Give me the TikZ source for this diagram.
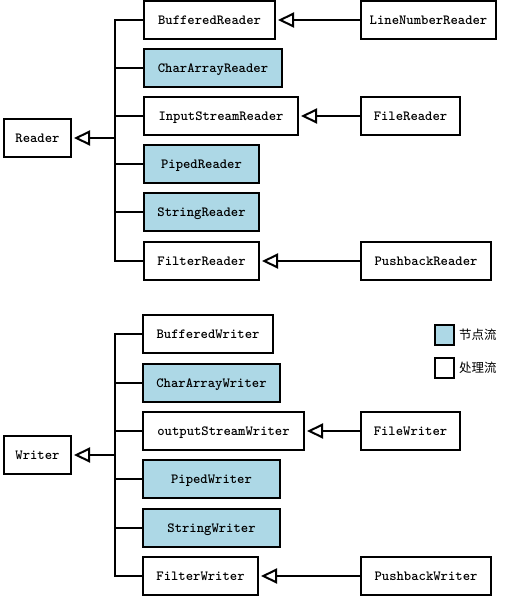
\documentclass[tikz,border=0pt]{standalone}
\usepackage{fontspec}
\newfontfamily\cjk{Noto Sans CJK SC}
\usetikzlibrary{arrows.meta}

\definecolor{nodeblue}{RGB}{173,216,230}

\tikzset{
  procstream/.style={draw, line width=2pt, minimum height=38pt, inner xsep=2pt,
    text height=8.6pt, text depth=0pt,
    anchor=west, font=\fontsize{14}{16}\ttfamily\bfseries},
  nodestream/.style={procstream, fill=nodeblue},
  inherit/.style={-{Triangle[open, length=16pt, width=15pt]}, line width=2pt, shorten >=2pt},
  branch/.style={line width=2pt},
  keytext/.style={anchor=west, inner sep=0pt, font=\fontsize{12.5}{14}\cjk},
}

\begin{document}
\begin{tikzpicture}[x=1pt, y=-1pt]
  \useasboundingbox (0,0) rectangle (508,598);

  % Reader side
  \node[procstream, minimum width=67pt] (reader) at (3,138) {Reader};
  \node[procstream, minimum width=131pt] (bufr) at (143,20) {BufferedReader};
  \node[nodestream, minimum width=138pt] (car) at (143,68) {CharArrayReader};
  \node[procstream, minimum width=154pt] (isr) at (143,116) {InputStreamReader};
  \node[nodestream, minimum width=115pt] (pipr) at (143,164) {PipedReader};
  \node[nodestream, minimum width=115pt] (strr) at (143,212) {StringReader};
  \node[procstream, minimum width=115pt] (filr) at (143,261) {FilterReader};

  \node[procstream, minimum width=135pt] (lnr) at (360,20) {LineNumberReader};
  \node[procstream, minimum width=99pt] (filer) at (360,116) {FileReader};
  \node[procstream, minimum width=130pt] (pbr) at (360,261) {PushbackReader};

  \coordinate (rbus) at (115,138);
  \foreach \c in {bufr,car,isr,pipr,strr,filr}
    \draw[branch] (\c.west) -| (rbus);
  \draw[inherit] (rbus) -- (reader.east);
  \draw[inherit] (lnr.west) -- (bufr.east);
  \draw[inherit] (filer.west) -- (isr.east);
  \draw[inherit] (pbr.west) -- (filr.east);

  % Writer side
  \node[procstream, minimum width=67pt] (writer) at (3,455) {Writer};
  \node[procstream, minimum width=130pt] (bufw) at (142,334) {BufferedWriter};
  \node[nodestream, minimum width=137pt] (caw) at (142,383) {CharArrayWriter};
  \node[procstream, minimum width=161pt] (osw) at (142,431) {outputStreamWriter};
  \node[nodestream, minimum width=137pt] (pipw) at (142,479) {PipedWriter};
  \node[nodestream, minimum width=137pt] (strw) at (142,528) {StringWriter};
  \node[procstream, minimum width=115pt] (filw) at (142,576) {FilterWriter};

  \node[procstream, minimum width=99pt] (filew) at (360,431) {FileWriter};
  \node[procstream, minimum width=130pt] (pbw) at (360,576) {PushbackWriter};

  \coordinate (wbus) at (115,455);
  \foreach \c in {bufw,caw,osw,pipw,strw,filw}
    \draw[branch] (\c.west) -| (wbus);
  \draw[inherit] (wbus) -- (writer.east);
  \draw[inherit] (filew.west) -- (osw.east);
  \draw[inherit] (pbw.west) -- (filw.east);

  % Legend
  \node[nodestream, minimum width=19pt, minimum height=20pt] (keynode) at (434,335) {};
  \node[keytext] (keynodetext) at (459,335) {节点流};
  \node[procstream, minimum width=19pt, minimum height=20pt] (keyproc) at (434,368) {};
  \node[keytext] (keyproctext) at (459,368) {处理流};
\end{tikzpicture}
\end{document}
